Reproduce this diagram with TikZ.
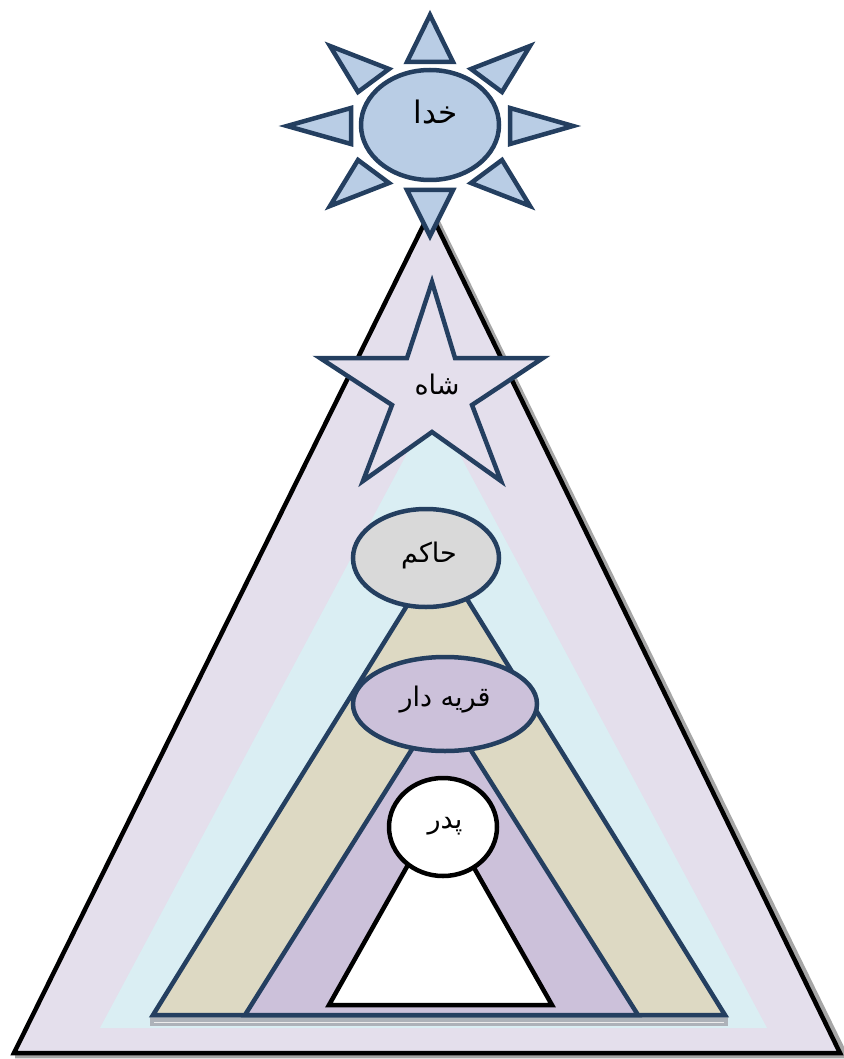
\documentclass[tikz,border=0pt]{standalone}
\usepackage{fontspec}
\newfontfamily\arabicfont[Script=Arabic]{DejaVu Sans}
\TeXXeTstate=1
\usetikzlibrary{shapes.geometric}
\definecolor{navy}{HTML}{243F60}
\definecolor{sunfill}{HTML}{B9CDE5}
\definecolor{lav}{HTML}{E4DFEC}
\definecolor{lblue}{HTML}{DAEEF3}
\definecolor{tan}{HTML}{DDD9C3}
\definecolor{purp}{HTML}{CCC1DA}
\definecolor{lgray}{HTML}{D9D9D9}
\tikzset{
  navyline/.style={draw=navy,line width=4.5pt,line join=miter},
  blackline/.style={draw=black,line width=4.5pt,line join=miter},
  lbl/.style={font=\arabicfont\fontsize{27}{32}\selectfont,inner sep=0pt},
  biglbl/.style={font=\arabicfont\fontsize{31}{36}\selectfont,inner sep=0pt},
  oval/.style={ellipse,inner sep=0pt,navyline},
  ray/.style={navyline,fill=sunfill}
}
\begin{document}
\begin{tikzpicture}[x=1pt,y=-1pt]
\useasboundingbox (0,0) rectangle (843,1059);
% main triangle with shadow
\draw[draw=gray!70,line width=4.5pt,line join=miter] (434,214) -- (846,1056) -- (15,1056);
\path[blackline,fill=lav] (430,212) -- (840,1053) -- (14,1053) -- cycle;
% light blue triangle
\fill[lblue] (433,405) -- (767,1028) -- (100,1028) -- cycle;
% bottom shadow band
\fill[gray!60!navy!50] (150,1017) rectangle (728,1026);
\draw[white!85!gray,line width=0.8pt] (154,1022) -- (724,1022);
% tan triangle
\path[navyline,fill=tan] (439,554) -- (725,1015) -- (153,1015) -- cycle;
% purple triangle
\path[navyline,fill=purp] (441,703) -- (638,1015) -- (245,1015) -- cycle;
% white triangle
\path[blackline,fill=white] (440,808) -- (552,1005) -- (329,1005) -- cycle;
% ellipses
\node[oval,fill=lgray,minimum width=146pt,minimum height=98pt] (hakem) at (426,558) {};
\node[oval,fill=purp,minimum width=184pt,minimum height=94pt] (qarye) at (445,704) {};
\node[ellipse,inner sep=0pt,blackline,fill=white,minimum width=108pt,minimum height=98pt] (pedar) at (443,827) {};
% star
\path[navyline,fill=lav] (432,282) -- (455,358) -- (543,358) -- (472,405) -- (501,481)
  -- (432,432) -- (363,481) -- (392,405) -- (320,358) -- (407,358) -- cycle;
% sun rays
\path[ray] (430,15) -- (453,62) -- (407,62) -- cycle;
\path[ray] (430,236) -- (453,190) -- (407,190) -- cycle;
\path[ray] (287,126) -- (351,108) -- (351,144) -- cycle;
\path[ray] (573,126) -- (510,108) -- (510,144) -- cycle;
\path[ray] (330,46) -- (389,69) -- (358,92) -- cycle;
\path[ray] (530,46) -- (471,69) -- (502,92) -- cycle;
\path[ray] (330,206) -- (389,183) -- (358,160) -- cycle;
\path[ray] (530,206) -- (471,183) -- (502,160) -- cycle;
\node[oval,fill=sunfill,minimum width=138pt,minimum height=110pt] (khoda) at (430,125) {};
% labels
\node[biglbl] (tkhoda) at (436,112) {\beginR خدا\endR};
\node[lbl] (tshah) at (437,385) {\beginR شاه\endR};
\node[lbl] (thakem) at (429,555) {\beginR حاکم\endR};
\node[lbl] (tqarye) at (445,700) {\beginR قریه دار\endR};
\node[lbl] (tpedar) at (445,826) {\beginR پدر\endR};
\end{tikzpicture}
\end{document}
